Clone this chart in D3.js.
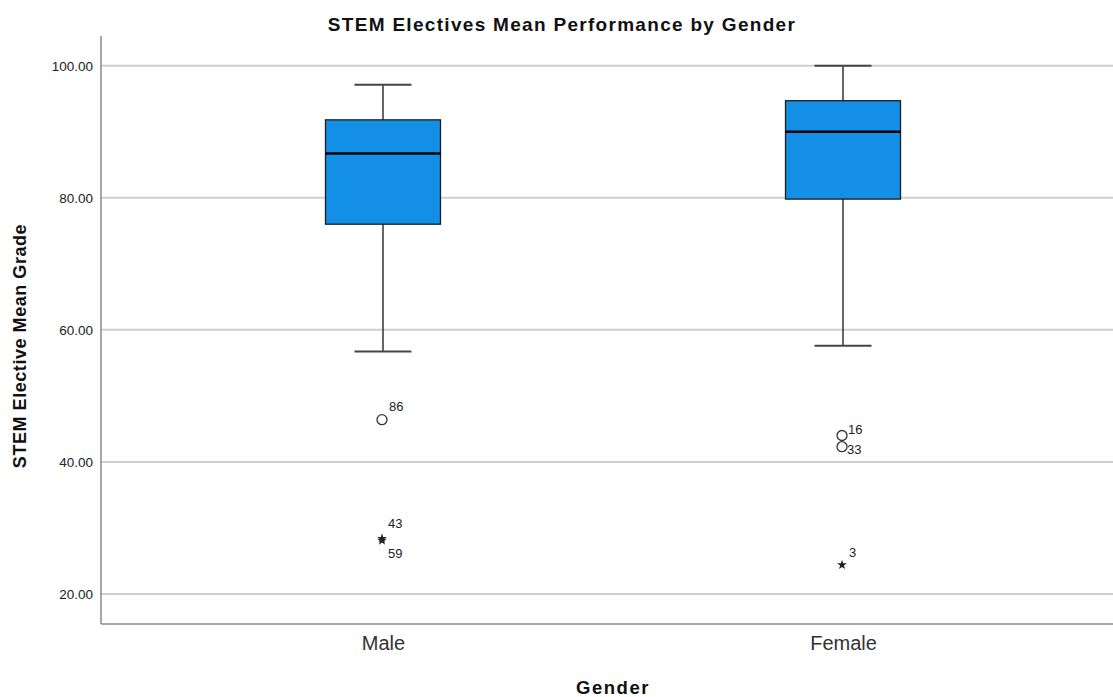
<!DOCTYPE html>
<html>
<head>
<meta charset="utf-8">
<script src="https://cdn.jsdelivr.net/npm/d3@7"></script>
<style>
  body { margin: 0; background: #fff; }
  svg { display: block; font-family: "Liberation Sans", Arial, sans-serif; }
</style>
</head>
<body>
<svg id="chart" width="1113" height="697"></svg>
<script>
// ---- data ----
const categories = ["Male", "Female"];
const whiskerLow  = [56.7, 57.6];
const quartile1   = [76.0, 79.8];
const medians     = [86.7, 90.0];
const quartile3   = [91.8, 94.7];
const whiskerHigh = [97.1, 100.0];
// outliers: group, value, case id, kind (circle = outlier, star = extreme)
const outlierGroup = ["Male", "Male", "Male", "Female", "Female", "Female"];
const outlierValue = [46.4, 28.4, 28.1, 44.0, 42.3, 24.4];
const outlierCase  = ["86", "43", "59", "16", "33", "3"];
const outlierKind  = ["circle", "star", "star", "circle", "circle", "star"];
const yTicks = [20, 40, 60, 80, 100];

const chartTitle = "STEM Electives Mean Performance by Gender";
const xTitle = "Gender";
const yTitle = "STEM Elective Mean Grade";

// ---- layout ----
const svg = d3.select("#chart");
const W = 1113, H = 697;
const pLeft = 101, pRight = 1125, pTop = 36, pBottom = 624;
// case-label placement (dx, dy of baseline relative to the marker)
const labelOffset = {
  "86": [6, -8.5], "43": [5, -10], "59": [5, 18],
  "16": [5, -1.5], "33": [4, 7.5], "3": [6, -7.5]
};

const x = d3.scalePoint().domain(categories).range([pLeft, pRight]).padding(0.613);
const y = d3.scaleLinear().domain([15.45, 104.5]).range([pBottom, pTop]);

// gridlines
svg.append("g").selectAll("line").data(yTicks).join("line")
  .attr("x1", pLeft).attr("x2", W)
  .attr("y1", d => y(d)).attr("y2", d => y(d))
  .attr("stroke", "#cfcfcf").attr("stroke-width", 2);

// y axis
const yAxis = svg.append("g").attr("transform", `translate(${pLeft},0)`)
  .call(d3.axisLeft(y).tickValues(yTicks).tickFormat(d3.format(".2f")).tickSize(0).tickPadding(8));
yAxis.select(".domain").remove();
yAxis.selectAll("text").attr("font-size", 13.5).attr("fill", "#222")
  .attr("font-family", "Liberation Sans, Arial, sans-serif");

// x axis
const xAxis = svg.append("g").attr("transform", `translate(0,${pBottom})`)
  .call(d3.axisBottom(x).tickSize(0).tickPadding(12));
xAxis.select(".domain").remove();
xAxis.selectAll("text").attr("font-size", 20).attr("fill", "#333")
  .attr("font-family", "Liberation Sans, Arial, sans-serif");

// axis lines
svg.append("line").attr("x1", pLeft).attr("x2", pLeft).attr("y1", pTop).attr("y2", pBottom)
  .attr("stroke", "#8a8a8a").attr("stroke-width", 1.5);
svg.append("line").attr("x1", pLeft).attr("x2", W).attr("y1", pBottom).attr("y2", pBottom)
  .attr("stroke", "#8a8a8a").attr("stroke-width", 1.5);

// boxes
const boxW = 115, capW = 57;
const boxes = categories.map((c, i) => ({
  c, lo: whiskerLow[i], q1: quartile1[i], med: medians[i], q3: quartile3[i], hi: whiskerHigh[i]
}));
const g = svg.append("g").selectAll("g").data(boxes).join("g");

// whiskers
g.append("line").attr("x1", d => x(d.c)).attr("x2", d => x(d.c))
  .attr("y1", d => y(d.hi)).attr("y2", d => y(d.q3))
  .attr("stroke", "#333").attr("stroke-width", 1.5);
g.append("line").attr("x1", d => x(d.c)).attr("x2", d => x(d.c))
  .attr("y1", d => y(d.q1)).attr("y2", d => y(d.lo))
  .attr("stroke", "#333").attr("stroke-width", 1.5);
g.append("line").attr("x1", d => x(d.c) - capW / 2).attr("x2", d => x(d.c) + capW / 2)
  .attr("y1", d => y(d.hi)).attr("y2", d => y(d.hi))
  .attr("stroke", "#444").attr("stroke-width", 2);
g.append("line").attr("x1", d => x(d.c) - capW / 2).attr("x2", d => x(d.c) + capW / 2)
  .attr("y1", d => y(d.lo)).attr("y2", d => y(d.lo))
  .attr("stroke", "#444").attr("stroke-width", 2);
// box
g.append("rect").attr("x", d => x(d.c) - boxW / 2).attr("width", boxW)
  .attr("y", d => y(d.q3)).attr("height", d => y(d.q1) - y(d.q3))
  .attr("fill", "#148fe6").attr("stroke", "#1e1e1e").attr("stroke-width", 1.3);
// median
g.append("line").attr("x1", d => x(d.c) - boxW / 2).attr("x2", d => x(d.c) + boxW / 2)
  .attr("y1", d => y(d.med)).attr("y2", d => y(d.med))
  .attr("stroke", "#000").attr("stroke-width", 2.5);

// outliers
const outliers = outlierValue.map((v, i) => ({
  g: outlierGroup[i], v, id: outlierCase[i], kind: outlierKind[i]
}));
const og = svg.append("g");
og.selectAll("circle").data(outliers.filter(o => o.kind === "circle")).join("circle")
  .attr("cx", d => x(d.g) - 1).attr("cy", d => y(d.v)).attr("r", 5)
  .attr("fill", "none").attr("stroke", "#333").attr("stroke-width", 1.3);
og.selectAll("path").data(outliers.filter(o => o.kind === "star")).join("path")
  .attr("transform", d => `translate(${x(d.g) - 1},${y(d.v)})`)
  .attr("d", d3.symbol(d3.symbolStar, 30))
  .attr("fill", "#222");
og.selectAll("text").data(outliers).join("text")
  .attr("x", d => x(d.g) + labelOffset[d.id][0])
  .attr("y", d => y(d.v) + labelOffset[d.id][1])
  .attr("font-size", 13).attr("fill", "#222")
  .text(d => d.id);

// titles
svg.append("text").attr("x", 562).attr("y", 31).attr("text-anchor", "middle")
  .attr("font-size", 19).attr("font-weight", "bold").attr("fill", "#111")
  .attr("letter-spacing", 1.3)
  .text(chartTitle);
svg.append("text").attr("x", 613).attr("y", 694).attr("text-anchor", "middle")
  .attr("font-size", 18.5).attr("font-weight", "bold").attr("fill", "#111")
  .attr("letter-spacing", 1.5)
  .text(xTitle);
svg.append("text").attr("transform", "translate(26,346) rotate(-90)").attr("text-anchor", "middle")
  .attr("font-size", 18).attr("font-weight", "bold").attr("fill", "#111")
  .attr("letter-spacing", 0.55)
  .text(yTitle);
</script>
</body>
</html>
